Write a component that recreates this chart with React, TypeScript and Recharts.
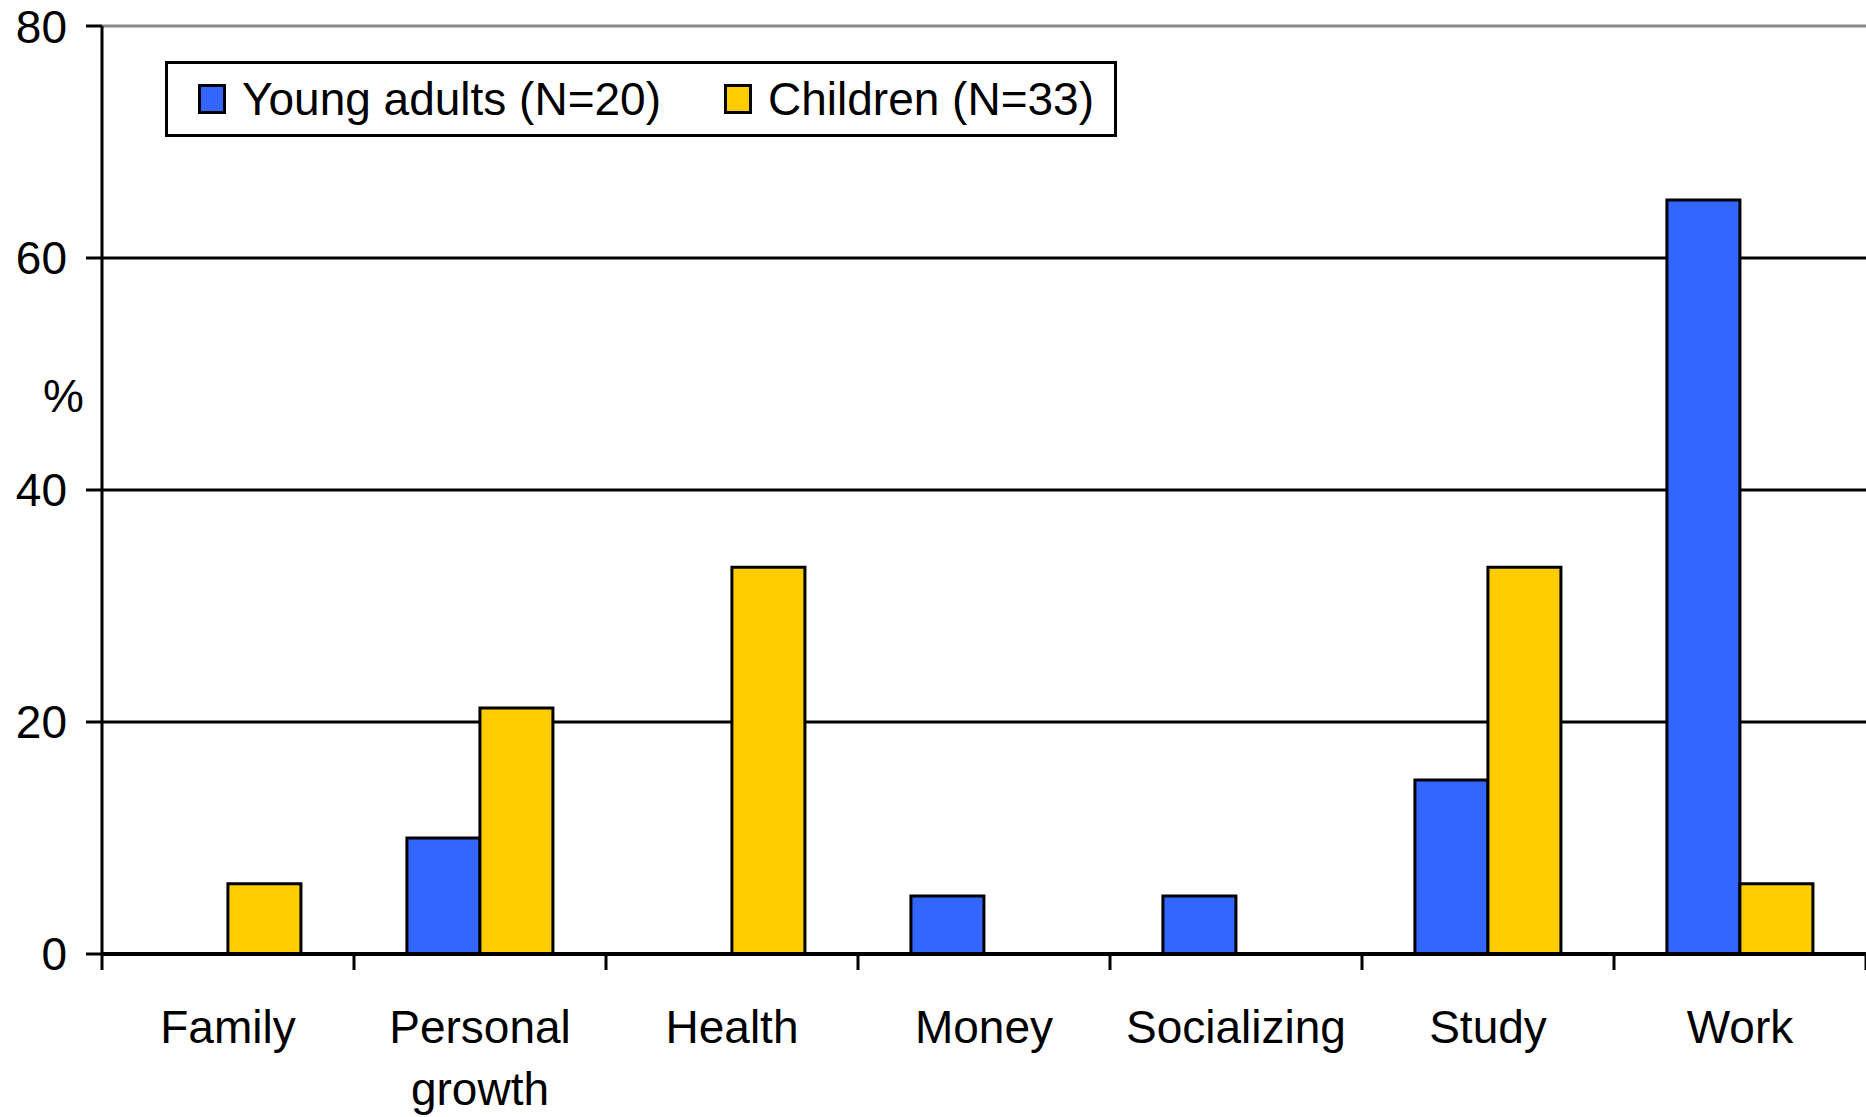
import { Bar, BarChart, CartesianGrid, Legend, ReferenceLine, XAxis, YAxis } from 'recharts'

const categories = ['Family', 'Personal growth', 'Health', 'Money', 'Socializing', 'Study', 'Work']
const youngAdults = [0, 10, 0, 5, 5, 15, 65]
const children = [6.06, 21.21, 33.33, 0, 0, 33.33, 6.06]
const yTicks = [0, 20, 40, 60, 80]
const gridValues = [20, 40, 60]
const seriesOrder = ['young', 'children']

const font = '"Liberation Sans", Arial, sans-serif'
const labelGap = 56

const data = categories.map((category, i) => ({
  category,
  young: youngAdults[i],
  children: children[i],
}))

// Excel style: tick marks sit between categories, label in the middle
const CategoryTick = (props: any) => {
  const { x, y, payload, width, visibleTicksCount, index } = props
  const half = payload.offset || width / visibleTicksCount / 2
  const axisY = y - labelGap
  const words = String(payload.value).split(' ')
  return (
    <g>
      <line x1={x - half} x2={x - half} y1={axisY} y2={axisY + 16} stroke="#000" strokeWidth={3} />
      {index === visibleTicksCount - 1 && (
        <line x1={x + half} x2={x + half} y1={axisY} y2={axisY + 16} stroke="#000" strokeWidth={3} />
      )}
      <text x={x} y={y} textAnchor="middle" fontSize={46} fill="#000" fontFamily={font}>
        {words.map((w, i) => (
          <tspan key={w} x={x} dy={i === 0 ? '0.71em' : 62}>{w}</tspan>
        ))}
      </text>
    </g>
  )
}

const LegendBox = ({ payload }: any) => {
  const items = [...(payload || [])].sort(
    (a: any, b: any) => seriesOrder.indexOf(a.dataKey) - seriesOrder.indexOf(b.dataKey))
  return (
    <div style={{
      border: '3px solid #000', background: '#fff', height: 76, boxSizing: 'border-box',
      display: 'flex', alignItems: 'center', paddingLeft: 30, fontFamily: font, fontSize: 46, color: '#000',
    }}>
      {items.map((item: any, i: number) => (
        <div key={item.value} style={{ display: 'flex', alignItems: 'center', marginRight: i === 0 ? 63 : 0 }}>
          <span style={{
            display: 'inline-block', width: 28, height: 30, boxSizing: 'border-box',
            border: '3px solid #000', background: item.color, marginRight: 16,
          }} />
          <span>{item.value}</span>
        </div>
      ))}
    </div>
  )
}

const App = () => {
  return (
    <div>
      <style>{'body{margin:0}'}</style>
      <BarChart width={1866} height={1117} data={data} margin={{ top: 26, right: 0, left: 0, bottom: 0 }}
        barCategoryGap="21%" barGap={0}>
        <CartesianGrid horizontalValues={gridValues} vertical={false} stroke="#000" strokeWidth={3} />
        <ReferenceLine y={80} stroke="#888" strokeWidth={3} />
        <XAxis dataKey="category" height={163} axisLine={{ stroke: '#000', strokeWidth: 4 }} tickLine={false}
          tickSize={0} tickMargin={labelGap} tick={<CategoryTick />} interval={0} />
        <YAxis domain={[0, 80]} ticks={yTicks} width={102} allowDataOverflow
          axisLine={{ stroke: '#000', strokeWidth: 3 }} tickLine={{ stroke: '#000', strokeWidth: 3 }}
          tickSize={16} tickMargin={19}
          tick={{ fill: '#000', fontSize: 46, fontFamily: font }}
          label={{ value: '%', position: 'insideLeft', offset: 43, dy: -94, fill: '#000', fontSize: 46, fontFamily: font }} />
        <Legend layout="vertical" align="center" verticalAlign="middle" content={<LegendBox />}
          wrapperStyle={{ left: 165, top: 61, width: 952 }} />
        <Bar dataKey="young" name="Young adults (N=20)" fill="#3366FF" stroke="#000" strokeWidth={3} isAnimationActive={false} />
        <Bar dataKey="children" name="Children (N=33)" fill="#FFCC00" stroke="#000" strokeWidth={3} isAnimationActive={false} />
      </BarChart>
    </div>
  )
}

export default App
